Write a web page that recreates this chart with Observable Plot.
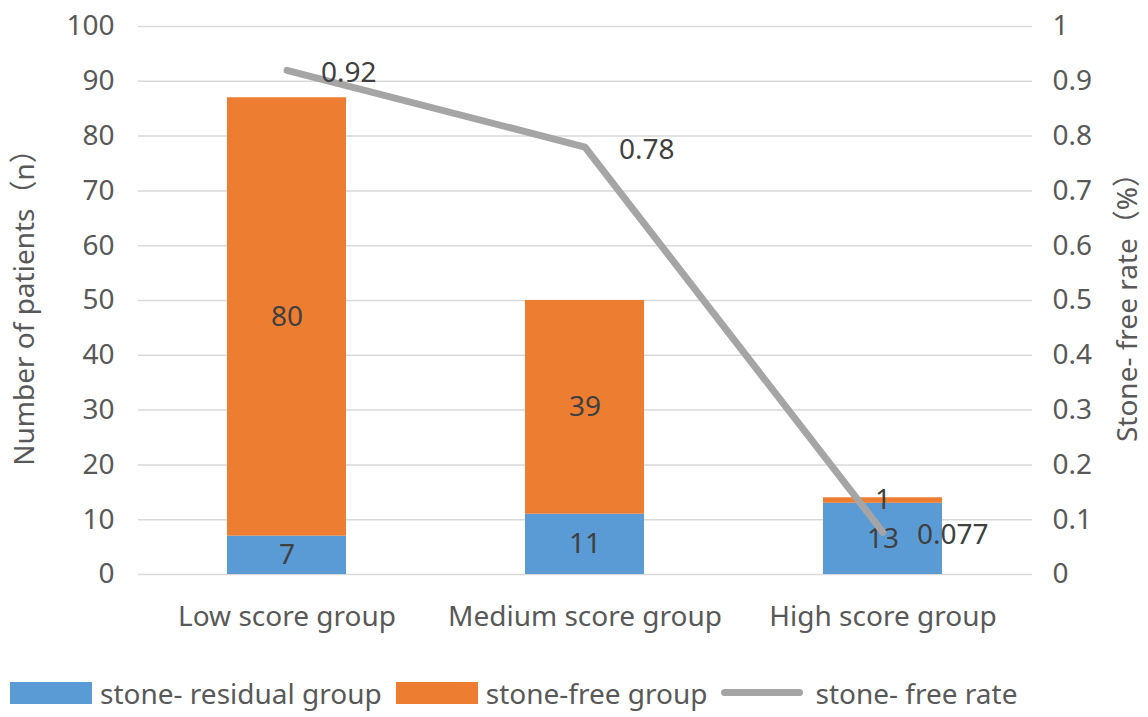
<!DOCTYPE html>
<html>
<head>
<meta charset="utf-8">
<script src="https://cdn.jsdelivr.net/npm/d3@7"></script>
<script src="https://cdn.jsdelivr.net/npm/@observablehq/plot@0.6"></script>
<style>
  body { margin: 0; background: #fff; font-family: "Noto Sans", "Noto Sans CJK SC", sans-serif; }
  #legend { display: flex; align-items: center; height: 36px; margin-top: 20px; padding-left: 10px; color: #595959; font-size: 28px; line-height: 1.1; font-family: "Noto Sans", sans-serif; }
  .item { display: flex; align-items: center; margin-right: 14px; }
  .sw { width: 82px; height: 22px; margin-right: 8px; }
  .ln { width: 82px; height: 7px; border-radius: 4px; background: #a5a5a5; margin-right: 12px; }
</style>
</head>
<body>
<div id="chart"></div>
<div id="legend"></div>
<script>
const groups = ["Low score group", "Medium score group", "High score group"];
const residual = [7, 11, 13];
const stoneFree = [80, 39, 1];
const rate = [0.92, 0.78, 0.077];
const rateLabels = ["0.92", "0.78", "0.077"];
const seriesNames = ["stone- residual group", "stone-free group", "stone- free rate"];
const colors = ["#5b9bd5", "#ed7d31", "#a5a5a5"];
const leftTicks = [0, 10, 20, 30, 40, 50, 60, 70, 80, 90, 100];

const bars = [];
groups.forEach((g, i) => {
  bars.push({group: g, type: seriesNames[0], count: residual[i]});
  bars.push({group: g, type: seriesNames[1], count: stoneFree[i]});
});
const rates = groups.map((g, i) => ({group: g, rate: rate[i], label: rateLabels[i]}));

const font = `"Noto Sans", "Noto Sans CJK SC", sans-serif`;

const chart = Plot.plot({
  width: 1148,
  height: 655,
  marginLeft: 138,
  marginRight: 116,
  marginTop: 26,
  marginBottom: 81,
  style: {fontFamily: font, fontSize: "28px", color: "#595959", background: "#fff"},
  x: {domain: groups, paddingInner: 0.6, paddingOuter: 0.3},
  y: {domain: [0, 100]},
  color: {domain: seriesNames.slice(0, 2), range: colors.slice(0, 2)},
  marks: [
    Plot.gridY(leftTicks, {stroke: "#d9d9d9", strokeOpacity: 1, strokeWidth: 1.5}),
    Plot.barY(bars, {x: "group", y: "count", fill: "type", order: null}),
    Plot.text(bars, Plot.stackY({x: "group", y: "count", z: "type", text: "count", fill: "#404040", fontSize: 28, order: null})),
    Plot.line(rates, {x: "group", y: d => d.rate * 100, stroke: colors[2], strokeWidth: 7, strokeLinecap: "round", strokeLinejoin: "round"}),
    Plot.text(rates, {x: "group", y: d => d.rate * 100, text: "label", textAnchor: "start", dx: 34, dy: 3, fill: "#404040", fontSize: 28}),
    Plot.axisY({ticks: leftTicks, tickSize: 0, tickPadding: 24, label: "Number of patients（n）", labelAnchor: "center", labelOffset: 124, labelArrow: "none", fill: "#595959"}),
    Plot.axisY({anchor: "right", ticks: leftTicks, tickSize: 0, tickPadding: 20, tickFormat: d => String(d / 100), label: "Stone- free rate（%）", labelAnchor: "center", labelOffset: 104, labelArrow: "none", fill: "#595959"}),
    Plot.axisX({tickSize: 0, tickPadding: 32, label: null, fill: "#595959"})
  ]
});
document.getElementById("chart").appendChild(chart);

const legend = document.getElementById("legend");
seriesNames.forEach((name, i) => {
  const item = document.createElement("div");
  item.className = "item";
  const sw = document.createElement("div");
  if (i < 2) { sw.className = "sw"; sw.style.background = colors[i]; }
  else { sw.className = "ln"; }
  const t = document.createElement("span");
  t.textContent = name;
  item.appendChild(sw);
  item.appendChild(t);
  legend.appendChild(item);
});
</script>
</body>
</html>
